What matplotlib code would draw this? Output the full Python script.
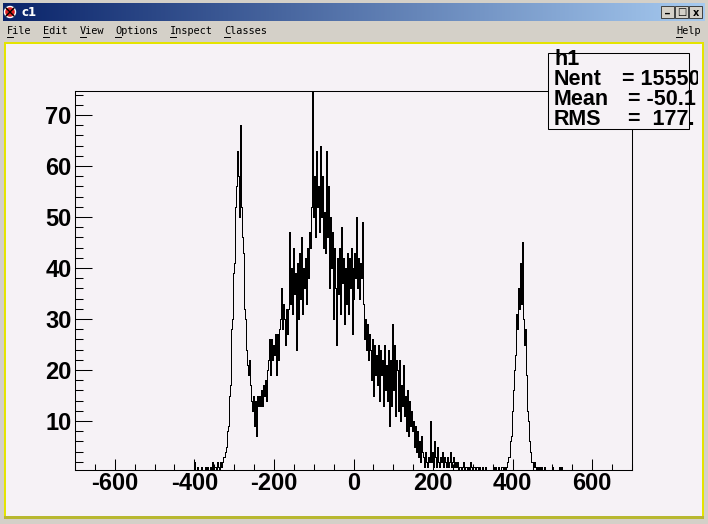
import numpy as np
import matplotlib.pyplot as plt
from matplotlib.patches import Rectangle, Ellipse
from matplotlib.colors import LinearSegmentedColormap
from matplotlib.ticker import FixedLocator, MultipleLocator

plt.rcParams['axes.unicode_minus'] = False

# h1 bin contents (bins 2.5 wide, starting at -420)
counts_left_tail = [0, 0, 0, 0, 0, 0, 0, 0, 2, 0, 0, 1, 0, 0, 0, 1,
                    0, 0, 0, 1, 0, 1, 0, 0, 1, 0, 2, 0, 1, 1, 0, 2]          # -420 .. -340
counts_main = [
    1, 0, 2, 1, 2, 3, 3, 4, 5, 8,            # -340 .. -315
    9, 15, 17, 28, 30, 39, 41, 52, 56, 63,   # -315 .. -290
    58, 50, 68, 52, 46, 43, 32, 30, 24, 21,  # -290 .. -265
    19, 22, 17, 14, 12, 15, 9, 14, 7, 15,    # -265 .. -240
    13, 15, 13, 16, 13, 17, 15, 18, 14, 20,  # -240 .. -215
    22, 26, 19, 26, 22, 25, 23, 27, 19, 27,  # -215 .. -190
    22, 28, 30, 36, 28, 33, 30, 25, 32, 27,  # -190 .. -165
    32, 47, 33, 40, 31, 44, 35, 39, 24, 41,  # -165 .. -140
    30, 43, 34, 46, 31, 40, 36, 42, 33, 44,  # -140 .. -115
    38, 47, 44, 52, 75, 50, 58, 46, 63, 52,  # -115 .. -90
    56, 47, 64, 50, 58, 44, 51, 43, 63, 46,  # -90 .. -65
    56, 36, 50, 40, 47, 30, 44, 36, 25, 42,  # -65 .. -40
    35, 44, 31, 48, 37, 42, 29, 40, 33, 43,  # -40 .. -15
    31, 42, 36, 44, 27, 40, 34, 43, 38, 50,  # -15 .. 10
    36, 42, 34, 41, 38, 49, 33, 26, 30, 24,  # 10 .. 35
    29, 22, 27, 24, 18, 26, 15, 25, 19, 23,  # 35 .. 60
    17, 25, 14, 24, 19, 22, 13, 25, 16, 21,  # 60 .. 85
    14, 24, 9, 22, 13, 29, 16, 25, 11, 22,   # 85 .. 110
    20, 12, 22, 10, 17, 13, 21, 11, 15, 8,   # 110 .. 135
    16, 7, 14, 9, 12, 8, 10, 5, 9, 4,        # 135 .. 160
    8, 3, 6, 2, 7, 4, 3, 1, 4, 2,            # 160 .. 185
    1, 3, 2, 10, 2, 4, 1, 6, 3, 1,           # 185 .. 210
    5, 2, 1, 3, 2, 4, 1, 3, 2, 1,            # 210 .. 235
    3, 1, 2, 4, 1, 2, 3, 1, 2, 1,            # 235 .. 260
    2, 0, 1, 1, 0, 1, 2, 0, 1, 1,            # 260 .. 285
    0, 1, 0, 2, 1, 0, 1, 1, 0, 1,            # 285 .. 310
]
counts_gap = [1, 0, 1, 0, 0, 1, 0, 0, 1, 0, 0, 0, 0, 0, 0,
              0, 1, 0, 1, 0, 0, 1, 0, 0, 1, 1, 0, 1, 0, 1]              # 310 .. 385
counts_right_peak = [2, 3, 3, 6, 7, 12, 16, 20, 23, 31, 28, 36, 32, 41, 33, 45, 30,
                     25, 28, 19, 12, 10, 6, 4, 2, 2, 1, 2, 1, 0, 1, 0, 0, 1]  # 385 .. 470
counts_right_tail = [0, 1, 0, 0, 1, 0, 0, 0, 0, 0, 0, 0,
                     1, 0, 0, 0, 0, 0, 0, 1, 0, 1, 0, 0]                 # 470 .. 530

x_ticks = [-600, -400, -200, 0, 200, 400, 600]
y_ticks = [10, 20, 30, 40, 50, 60, 70]
stats_names = ['h1', 'Nent', 'Mean', 'RMS']
stats_values = ['', '= 15550', ' = -50.1', ' =  177.']
menu_items = ['File', 'Edit', 'View', 'Options', 'Inspect', 'Classes']

counts = np.array(counts_left_tail + counts_main + counts_gap
                  + counts_right_peak + counts_right_tail, dtype=float)
edges = -420 + 2.5 * np.arange(len(counts) + 1)

W, H = 708, 524
canvas_bg = '#f6f2f6'
gray = '#d4d0c8'

fig = plt.figure(figsize=(W / 100, H / 100), dpi=100)
fig.patch.set_facecolor(gray)

# window chrome, drawn in pixel coordinates
bg = fig.add_axes([0, 0, 1, 1], zorder=0)
title_cmap = LinearSegmentedColormap.from_list('title', ['#0a246a', '#a6caf0'])
bg.imshow(np.linspace(0, 1, 256)[None, :], extent=[3, 705, 21, 3],
          cmap=title_cmap, aspect='auto', zorder=1)
bg.set_xlim(0, W)
bg.set_ylim(H, 0)
bg.axis('off')
bg.add_patch(Ellipse((10, 12), 11, 11, facecolor='#e02020', edgecolor='white', lw=1, zorder=2))
bg.plot([6, 14], [8, 16], color='black', lw=1, zorder=3)
bg.plot([6, 14], [16, 8], color='black', lw=1, zorder=3)
bg.text(21, 12, 'c1', color='white', fontsize=8.5, fontweight='bold',
        family='DejaVu Sans', va='center', ha='left', zorder=3)
for i, glyph in enumerate(['_', '\u25a1', 'x']):
    x0 = 661 + i * 14
    bg.add_patch(Rectangle((x0, 6), 13, 12, facecolor=gray, edgecolor='#404040',
                           lw=0.7, zorder=2))
    bg.text(x0 + 6.5, 12.5 if glyph != '_' else 9.5, glyph, fontsize=7, fontweight='bold',
            ha='center', va='center', family='DejaVu Sans', zorder=3)

menu_x = [7, 43, 80, 115, 170, 224]
for label, x0 in zip(menu_items, menu_x):
    bg.text(x0, 31, label, fontsize=7.4, family='DejaVu Sans Mono', va='center', ha='left')
    bg.plot([x0, x0 + 6], [37, 37], color='black', lw=0.7)
bg.text(676, 31, 'Help', fontsize=7.4, family='DejaVu Sans Mono', va='center', ha='left')
bg.plot([676, 682], [37, 37], color='black', lw=0.7)

bg.add_patch(Rectangle((4, 42), 700, 477, facecolor='#e4e400', edgecolor='none', zorder=1))
bg.add_patch(Rectangle((4, 516), 700, 3, facecolor='#b8b830', edgecolor='none', zorder=1))
bg.add_patch(Rectangle((6, 44), 696, 472, facecolor=canvas_bg, edgecolor='none', zorder=1))

# the histogram frame
ax = fig.add_axes([75 / W, (H - 470) / H, 557 / W, 379 / H], zorder=2)
ax.set_facecolor(canvas_bg)
ax.stairs(counts, edges, color='black', lw=0.6, antialiased=False)
ax.set_xlim(-700, 700)
ax.set_ylim(0.4, 74.7)

ax.xaxis.set_major_locator(FixedLocator(x_ticks))
ax.xaxis.set_minor_locator(MultipleLocator(50))
ax.yaxis.set_major_locator(FixedLocator(y_ticks))
ax.yaxis.set_minor_locator(MultipleLocator(2))
ax.tick_params(which='both', direction='in', top=False, right=False, width=0.75, color='black')
ax.tick_params(axis='x', which='major', length=8, pad=1.5)
ax.tick_params(axis='x', which='minor', length=4)
ax.tick_params(axis='y', which='major', length=12, pad=2.4)
ax.tick_params(axis='y', which='minor', length=6)
for lab in ax.get_xticklabels() + ax.get_yticklabels():
    lab.set_fontfamily('Liberation Sans')
    lab.set_fontweight('bold')
    lab.set_fontsize(17)
for sp in ax.spines.values():
    sp.set_linewidth(0.75)

# statistics box, clipped at the canvas edge
st = fig.add_axes([0, 0, 698 / W, 1], zorder=3)
st.set_xlim(0, 698)
st.set_ylim(H, 0)
st.axis('off')
st.add_patch(Rectangle((548, 53), 141, 76, facecolor=canvas_bg, edgecolor='black', lw=0.75))
font = dict(family='Liberation Sans', fontweight='bold', fontsize=15.5, va='top',
            ha='left', clip_on=True, linespacing=0.935)
st.text(554, 49, '\n'.join(stats_names), **font)
st.text(622, 49, '\n'.join(stats_values), **font)

fig.savefig('out.png', dpi=100, facecolor=fig.get_facecolor())
